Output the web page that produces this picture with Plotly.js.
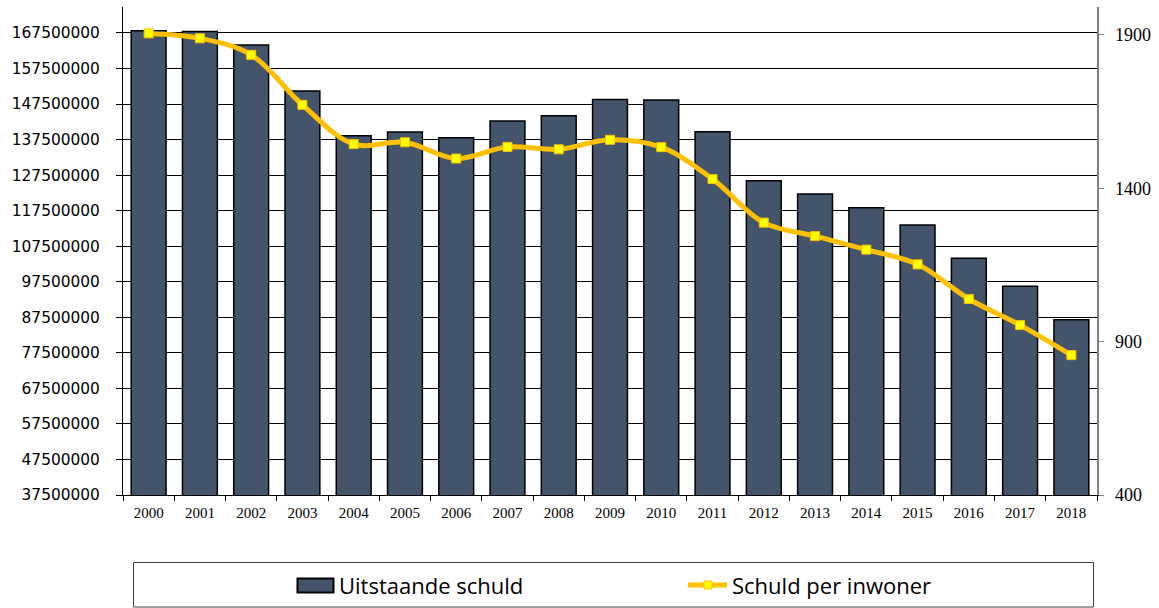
<!DOCTYPE html>
<html>
<head>
<meta charset="utf-8">
<script src="https://cdn.plot.ly/plotly-3.0.1.min.js"></script>
<style>html,body{margin:0;padding:0;background:#fff;}#chart{width:1159px;height:608px;}</style>
</head>
<body>
<div id="chart"></div>
<script>
const years = ["2000","2001","2002","2003","2004","2005","2006","2007","2008","2009","2010","2011","2012","2013","2014","2015","2016","2017","2018"];
const uitstaandeSchuld = [168100000,167900000,164100000,151200000,138600000,139600000,138000000,142700000,144200000,148800000,148600000,139700000,125900000,122200000,118300000,113500000,104100000,96200000,86800000];
const schuldPerInwoner = [1905,1889,1835,1672,1544,1550,1497,1535,1527,1558,1534,1430,1288,1244,1200,1152,1039,954,856];
const seriesNames = ["Uitstaande schuld","Schuld per inwoner"];

const barColor = "#44546A";
const lineColor = "#FFC000";

const traces = [
  {
    type: "bar", x: years, y: uitstaandeSchuld, name: seriesNames[0],
    marker: {color: barColor, line: {color: "#000", width: 1.5}},
    yaxis: "y", showlegend: false, hoverinfo: "x+y"
  },
  {
    type: "scatter", mode: "lines+markers", x: years, y: schuldPerInwoner, name: seriesNames[1],
    line: {color: lineColor, width: 5, shape: "spline", smoothing: 1},
    marker: {symbol: "square", size: 9, color: "#FFFF00", line: {color: lineColor, width: 1}},
    yaxis: "y2", showlegend: false
  }
];

// plot area in pixels: x 123..1097, y 7..495
const PL = 123, PR = 1097, PT = 7, PB = 495;
const px = v => (v - PL) / (PR - PL);
const py = v => (PB - v) / (PB - PT);

const layout = {
  width: 1159, height: 608,
  margin: {l: PL, r: 1159 - PR, t: PT, b: 608 - PB, pad: 0},
  paper_bgcolor: "#fff", plot_bgcolor: "#fff",
  bargap: 0.32,
  showlegend: false,
  xaxis: {
    type: "category", range: [-0.5, years.length - 0.5], autorange: false,
    showline: true, linecolor: "#000", linewidth: 1,
    ticks: "outside", tickson: "boundaries", ticklen: 5, tickcolor: "#000",
    ticklabelstandoff: 4,
    tickfont: {family: "Liberation Serif", size: 15, color: "#000"},
    showgrid: false, zeroline: false
  },
  yaxis: {
    range: [37500000, 174800000], autorange: false, tick0: 37500000, dtick: 10000000, tickformat: "d",
    showline: true, linecolor: "#000", linewidth: 1,
    ticks: "outside", ticklen: 6, tickcolor: "#000", ticklabelstandoff: 13,
    showgrid: true, gridcolor: "#000", gridwidth: 1, zeroline: false,
    tickfont: {family: "DejaVu Sans", size: 15.4, color: "#000"}
  },
  yaxis2: {
    overlaying: "y", side: "right", range: [400, 1991], autorange: false, tick0: 400, dtick: 500,
    showline: true, linecolor: "#808080", linewidth: 1.5,
    ticks: "outside", ticklen: 5, tickcolor: "#808080", ticklabelstandoff: 8,
    showgrid: false, zeroline: false,
    tickfont: {family: "Liberation Serif", size: 18, color: "#000"}
  },
  shapes: [
    {type: "rect", xref: "paper", yref: "paper", x0: px(133.5), x1: px(1093.5), y0: py(562.5), y1: py(607), line: {color: "#404040", width: 1}, fillcolor: "rgba(0,0,0,0)"},
    {type: "rect", xref: "paper", yref: "paper", x0: px(297.5), x1: px(333.5), y0: py(578.5), y1: py(592.5), line: {color: "#000", width: 2}, fillcolor: barColor},
    {type: "line", xref: "paper", yref: "paper", x0: px(688), x1: px(727), y0: py(585), y1: py(585), line: {color: lineColor, width: 5}},
    {type: "rect", xref: "paper", yref: "paper", x0: px(704), x1: px(712), y0: py(581), y1: py(589), line: {color: lineColor, width: 1}, fillcolor: "#FFFF00"}
  ],
  annotations: [
    {xref: "paper", yref: "paper", x: px(337), y: py(585), xanchor: "left", yanchor: "middle", showarrow: false, text: seriesNames[0], font: {family: "Open Sans", size: 22, color: "#000"}},
    {xref: "paper", yref: "paper", x: px(730), y: py(585), xanchor: "left", yanchor: "middle", showarrow: false, text: seriesNames[1], font: {family: "Open Sans", size: 22, color: "#000"}}
  ]
};

Plotly.newPlot("chart", traces, layout, {displayModeBar: false, staticPlot: true});
</script>
</body>
</html>
